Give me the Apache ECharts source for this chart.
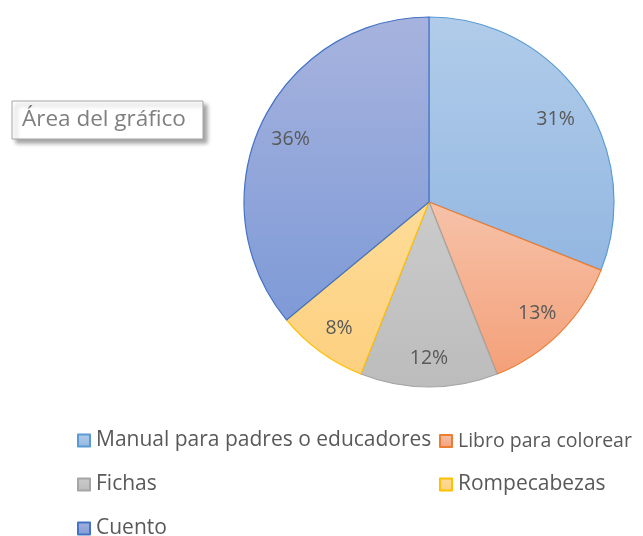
<!DOCTYPE html>
<html>
<head>
<meta charset="utf-8">
<script src="https://cdn.jsdelivr.net/npm/echarts@6/dist/echarts.min.js"></script>
<style>
  html, body { margin: 0; padding: 0; background: #fff; }
  #chart { width: 643px; height: 536px; }
</style>
</head>
<body>
<div id="chart"></div>
<script>
    // chart data
    const categories = ['Manual para padres o educadores', 'Libro para colorear', 'Fichas', 'Rompecabezas', 'Cuento'];
    const values = [31, 13, 12, 8, 36];

    const borderColors = ['#5B9BD5', '#ED7D31', '#A5A5A5', '#FFC000', '#4472C4'];
    const topColors = ['#B1CCEA', '#F6C2A9', '#CBCBCB', '#FEDC98', '#A7B3DE'];
    const bottomColors = ['#93B7E1', '#F4A079', '#BCBCBC', '#FDD080', '#7E9AD7'];

    const chart = echarts.init(document.getElementById('chart'));

    const pieData = categories.map((name, i) => ({
        name: name,
        value: values[i],
        itemStyle: {
            color: new echarts.graphic.LinearGradient(0, 0, 0, 1, [
                {offset: 0, color: topColors[i]},
                {offset: 1, color: bottomColors[i]}
            ]),
            borderColor: borderColors[i],
            borderWidth: 1.2
        }
    }));

    // legend slots (two columns, three rows)
    const legendPos = [
        {left: 72, top: 425, size: 21},
        {left: 434, top: 426, size: 19.5},
        {left: 72, top: 469, size: 21},
        {left: 434, top: 469, size: 21},
        {left: 72, top: 513, size: 21}
    ];
    const legends = categories.map((name, i) => ({
        data: [name],
        left: legendPos[i].left,
        top: legendPos[i].top,
        icon: 'rect',
        itemWidth: 12,
        itemHeight: 12,
        itemGap: 6,
        selectedMode: false,
        textStyle: {
            fontFamily: 'Open Sans',
            fontSize: legendPos[i].size,
            color: '#595959',
            padding: [0, 0, 0, 1]
        }
    }));

    chart.setOption({
        animation: false,
        legend: legends,
        graphic: [
            {
                type: 'rect',
                shape: {x: 12, y: 101, width: 191, height: 38},
                style: {
                    fill: '#fff',
                    stroke: '#A6A6A6',
                    lineWidth: 1,
                    shadowColor: 'rgba(0,0,0,0.35)',
                    shadowBlur: 4,
                    shadowOffsetX: 4,
                    shadowOffsetY: 4
                }
            },
            {
                type: 'text',
                left: 22,
                top: 108,
                style: {
                    text: 'Área del gráfico',
                    fontFamily: 'Open Sans',
                    fontSize: 22.5,
                    fill: '#7F7F7F'
                }
            }
        ],
        series: [
            {
                type: 'pie',
                center: [429, 202],
                radius: [0, 185],
                startAngle: 90,
                clockwise: true,
                silent: true,
                label: {show: false},
                labelLine: {show: false},
                data: pieData
            },
            {
                // label layer: places the percentages at about 0.8 of the radius
                type: 'pie',
                center: [429, 202],
                radius: [0, 300],
                startAngle: 90,
                clockwise: true,
                silent: true,
                legendHoverLink: false,
                itemStyle: {color: 'rgba(0,0,0,0)', borderWidth: 0},
                label: {
                    show: true,
                    position: 'inside',
                    formatter: '{d}%',
                    fontFamily: 'Open Sans',
                    fontSize: 19.5,
                    color: '#595959',
                    offset: [0, 3]
                },
                labelLine: {show: false},
                data: categories.map((name, i) => ({name: name + ' ', value: values[i]}))
            }
        ]
    });
</script>
</body>
</html>
